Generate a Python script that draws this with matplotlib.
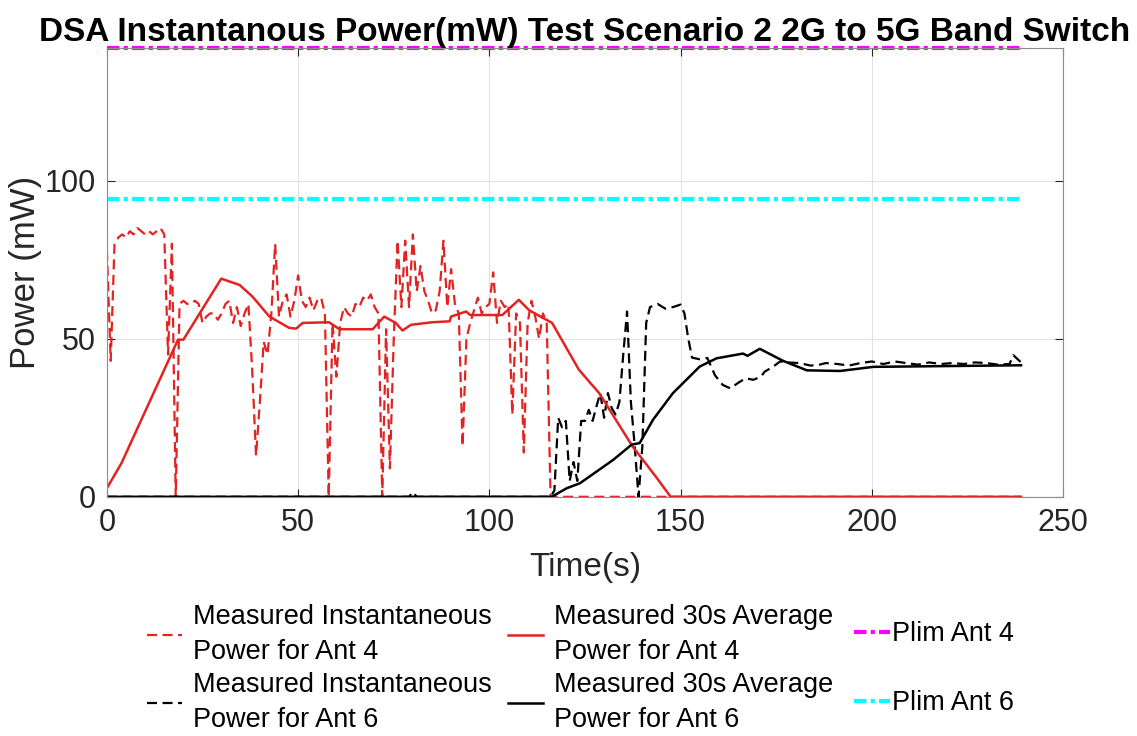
import matplotlib
matplotlib.use("Agg")
import matplotlib.pyplot as plt

plt.rcParams["font.family"] = ["Liberation Sans", "DejaVu Sans"]

# ---- data ----
# instantaneous power, Ant 4 (red dashed)
t_inst4 = list(range(0, 117)) + [239]
p_inst4 = [78, 43, 80, 82, 83, 82, 84, 83, 85, 84,
           83, 84, 83, 84, 85, 83, 45, 80, 0, 61,
           62, 61, 61, 62, 61, 55, 57, 58, 58, 56,
           58, 61, 62, 55, 60, 54, 58, 61, 40, 13,
           30, 49, 45, 58, 80, 57, 62, 64, 57, 62,
           70, 62, 60, 63, 59, 62, 63, 58, 0, 55,
           38, 55, 60, 58, 57, 61, 60, 63, 62, 64,
           60, 58, 0, 53, 9, 50, 81, 60, 81, 60,
           83, 65, 73, 65, 62, 58, 59, 65, 81, 60,
           72, 61, 58, 16, 50, 55, 59, 63, 58, 60,
           61, 71, 55, 62, 60, 61, 26, 58, 55, 14,
           55, 62, 57, 50, 58, 55, 0, 0]

# instantaneous power, Ant 6 (black dashed)
t_inst6 = [0, 79, 80, 81, 116, 117, 118, 119, 120, 121,
           122, 123, 124, 125, 126, 127, 128, 129, 130, 131,
           132, 133, 134, 135, 136, 137, 138, 139, 140, 141,
           142, 144, 146, 148, 150, 151, 152, 153, 155, 157,
           159, 161, 163, 165, 167, 169, 171, 172, 174, 176,
           178, 181, 184, 186, 188, 191, 194, 197, 200, 203,
           206, 209, 212, 215, 218, 221, 224, 227, 230, 233,
           236, 237, 239]
p_inst6 = [0, 0, 1.5, 0, 0, 2, 25, 22, 24, 5,
           11, 5, 24, 24, 27.5, 24, 28.6, 32.8, 25, 32.8,
           28, 26, 30, 45, 58.6, 30, 16, 0, 16, 55,
           60, 61, 59.5, 60, 60.8, 58, 50, 44, 43.5, 43.9,
           38.4, 35.4, 34.3, 36, 37.5, 37, 38, 39.6, 41, 42.8,
           42.5, 42.3, 41.5, 41.7, 42.3, 42, 41.5, 42.3, 42.8, 42,
           42.8, 42.3, 41.8, 42.5, 42, 42.3, 42, 42.5, 42.3, 41.8,
           42, 44.8, 42.5]

# 30 s average power, Ant 4 (red solid)
t_avg4 = [0, 3.8, 18.6, 20, 29.9, 34.7, 38, 42.5, 47.7, 49.5,
          51.2, 58.1, 60.8, 69.5, 72.5, 75.5, 77.3, 79.5, 85, 89.6,
          90, 93.9, 95, 99, 103.4, 107.7, 110.4, 116.4, 123.4, 128.7,
          137.4, 143.5, 147.4, 239]
p_avg4 = [2.7, 10.6, 49.7, 49.7, 69, 67, 63.4, 57, 53.4, 53.2,
          55, 55.2, 53, 53, 57, 55, 52.6, 54.4, 55.2, 55.5,
          57, 58.6, 57.5, 57.5, 57.5, 62.3, 59, 55, 40.2, 32.8,
          16, 6.4, 0, 0]

# 30 s average power, Ant 6 (black solid)
t_avg6 = [0, 116.3, 120.2, 123.7, 132.4, 137.2, 139.3, 142.8, 148, 155,
          159.4, 166.3, 167.5, 170.7, 176.8, 183, 191.7, 200.4, 239]
p_avg6 = [0, 0, 2.7, 4.3, 11.7, 16.5, 17, 24.4, 32.8, 41.2,
          43.8, 45.3, 44.6, 46.8, 43, 40, 39.8, 41.1, 41.6]

# power limits
t_lim = [0, 239]
plim4 = [142, 142]
plim6 = [94.3, 94.3]

labels = ["Measured Instantaneous\nPower for Ant 4",
          "Measured Instantaneous\nPower for Ant 6",
          "Measured 30s Average\nPower for Ant 4",
          "Measured 30s Average\nPower for Ant 6",
          "Plim Ant 4", "Plim Ant 6"]

RED = "#E32222"
TXT = "#262626"

fig = plt.figure(figsize=(11.37, 7.36), dpi=100)
ax = fig.add_axes([0.094, 0.325, 0.841, 0.610])

h1, = ax.plot(t_inst4, p_inst4, color=RED, lw=1.6, dashes=(4.5, 2.5), label=labels[0])
h2, = ax.plot(t_inst6, p_inst6, color="black", lw=1.6, dashes=(4.5, 2.5), label=labels[1])
h3, = ax.plot(t_avg4, p_avg4, color=RED, lw=1.8, label=labels[2])
h4, = ax.plot(t_avg6, p_avg6, color="black", lw=1.8, label=labels[3])
h5, = ax.plot(t_lim, plim4, color="#FF00FF", lw=3.0, dashes=(3, 1, 1, 1),
              label=labels[4], clip_on=False)
h6, = ax.plot(t_lim, plim6, color="#00FFFF", lw=3.0, dashes=(3, 1, 1, 1), label=labels[5])

ax.set_xlim(0, 250)
ax.set_ylim(0, 142)
ax.set_xticks([0, 50, 100, 150, 200, 250])
ax.set_yticks([0, 50, 100])
ax.grid(True, color="#E3E3E3", lw=0.8)
ax.set_axisbelow(True)
ax.tick_params(direction="in", top=True, right=True, length=6,
               labelsize=22, colors=TXT, pad=8)
for s in ax.spines.values():
    s.set_color("#8C8C8C")
    s.set_linewidth(0.8)

ax.set_xlabel("Time(s)", fontsize=24, color=TXT, labelpad=10)
ax.set_ylabel("Power (mW)", fontsize=25, color=TXT, labelpad=2)
ax.set_title("DSA Instantanous Power(mW) Test Scenario 2 2G to 5G Band Switch",
             fontsize=24, fontweight="bold", pad=5)

# measured series: two columns of two-line entries
leg = fig.legend(handles=[h1, h2, h3, h4], loc="center left",
                 bbox_to_anchor=(0.108, 0.092), ncol=2, frameon=False,
                 fontsize=19.5, handlelength=1.3, handletextpad=0.4,
                 columnspacing=0.6, labelspacing=0.25)
for t in leg.get_texts():
    t.set_linespacing(1.45)

# limit lines: third column, spaced to match the two-line rows
fig.legend(handles=[h5, h6], loc="center left",
           bbox_to_anchor=(0.730, 0.0915), frameon=False,
           fontsize=19.5, handlelength=1.3, handletextpad=0.1,
           labelspacing=1.6)

fig.savefig("out.png", dpi=100)
